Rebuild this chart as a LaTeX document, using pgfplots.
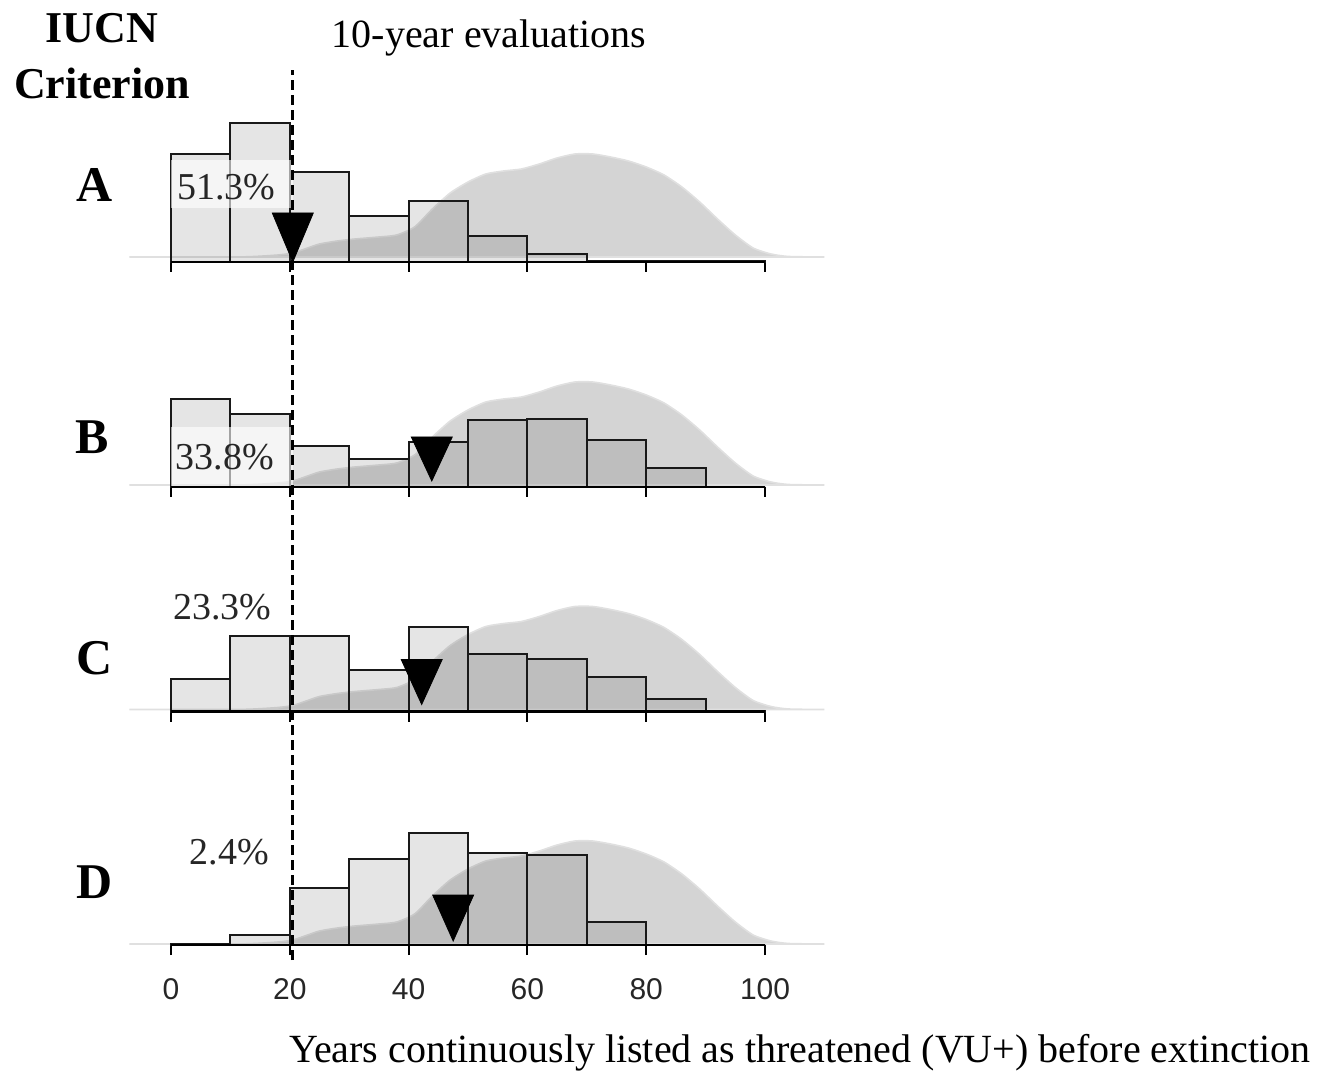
\documentclass[border=0pt]{standalone}
\usepackage{fontspec}
\setmainfont{Liberation Serif}
\newfontfamily\axisdigits{Liberation Sans}
\usepackage{pgfplots}
\usepackage{pgfplotstable}
\pgfplotsset{compat=1.18}

% Reference distribution (smoothed density), drawn behind every panel
\pgfplotstableread{
x d
-7 0
10 0
14 0.5
18 2
20.5 4
23 9
25 13
28 16
31 18
35 20
38 22
41 30
44 48
47 64
50 75
53 83
56 86
59 88
62 93
65 99
68 103
71 103
74 100
77 96
80 90
83 82
86 70
89 55
92 38
95 22
98 9
101 3
104 0.5
110 0
}\densitytbl

% Histograms of years listed as threatened, one column per criterion
\pgfplotstableread{
x A B C D
0 108 88 33 0.6
10 139 73 76 9.7
20 90 41 76 57
30 46 28 42 86
40 61 45 85 112
50 26 67 58 92
60 8 68 53 90
70 1.3 47 35 23
80 0.5 19 13 0.5
90 0.5 0 1 0
100 0 0 0 0
}\binstbl

\pgfplotsset{
  panel/.style={
    scale only axis, width=356.4pt, height=90pt,
    xmin=-8, xmax=112, ymin=0, ymax=180,
    anchor=south west, clip=false,
    axis line style={draw=none},
    ytick=\empty,
    xtick={0,20,...,100}, xtick pos=bottom,
    tick align=outside, major tick length=5pt,
    tick style={black, line width=1pt},
    /pgf/number format/assume math mode=true,
  },
  nolabels/.style={xticklabels={}},
}
\tikzset{pct/.style={font=\fontsize{19}{22}\selectfont, text=black!85, inner sep=0pt}}

% density, bars and baseline shared by the four panels
\newcommand{\panelbody}[2]{%
  \addplot[fill=black!17, draw=black!12, line width=0.8pt, smooth, tension=0.4]
    table[x=x, y expr=\thisrow{d}+#2] {\densitytbl} -- cycle;
  \addplot[ybar interval, fill=black, fill opacity=0.1, draw=black!90, line width=1pt]
    table[x=x, y=#1] {\binstbl};
  \addplot[black, line width=1.3pt] coordinates {(0,0) (100,0)};
}

\begin{document}
\begin{tikzpicture}
\useasboundingbox (0,0) rectangle (663pt,-537pt);

% Criterion A
\begin{axis}[panel, nolabels, at={(61.75pt,-131pt)}]
  \panelbody{A}{5}
  \fill[white, fill opacity=0.6] (axis cs:0,54) rectangle (axis cs:20.5,102);
  \node[pct] at (axis cs:9.3,75) {51.3\%};
  \addplot[fill=black, draw=black] coordinates {(17.05,49) (23.95,49) (20.5,0)} -- cycle;
\end{axis}

% Criterion B
\begin{axis}[panel, nolabels, at={(61.75pt,-243.5pt)}]
  \panelbody{B}{2}
  \fill[white, fill opacity=0.6] (axis cs:0,1) rectangle (axis cs:20.5,60);
  \node[pct] at (axis cs:9.1,30) {33.8\%};
  \addplot[fill=black, draw=black] coordinates {(40.45,50) (47.35,50) (43.9,6)} -- cycle;
\end{axis}

% Criterion C
\begin{axis}[panel, nolabels, at={(61.75pt,-355.75pt)}]
  \panelbody{C}{2}
  \node[pct] at (axis cs:8.6,104.5) {23.3\%};
  \addplot[fill=black, draw=black] coordinates {(38.75,52) (45.65,52) (42.2,7)} -- cycle;
\end{axis}

% Criterion D, with the tick labels and the 20-year reference line
\begin{axis}[panel, at={(61.75pt,-472.5pt)},
    xticklabel style={font=\axisdigits\fontsize{15}{18}\selectfont, text=black!85, yshift=-8pt}]
  \panelbody{D}{1}
  \node[pct] at (axis cs:9.8,93) {2.4\%};
  \addplot[fill=black, draw=black] coordinates {(44.05,50) (50.95,50) (47.5,4)} -- cycle;
  \draw[black, line width=1.3pt, dash pattern=on 5pt off 2.5pt]
    (axis cs:20.5,-15) -- (axis cs:20.5,875);
\end{axis}

\begin{scope}[x=0.5pt, y=-0.5pt]
  \node[font=\bfseries\fontsize{22}{26}\selectfont] at (102,28) {IUCN};
  \node[font=\bfseries\fontsize{22}{26}\selectfont] at (102,83) {Criterion};
  \node[font=\fontsize{20}{24}\selectfont] at (489,38) {10-year evaluations};
  \node[font=\bfseries\fontsize{25}{30}\selectfont] at (95,185) {A};
  \node[font=\bfseries\fontsize{25}{30}\selectfont] at (92,437) {B};
  \node[font=\bfseries\fontsize{25}{30}\selectfont] at (95,658) {C};
  \node[font=\bfseries\fontsize{25}{30}\selectfont] at (95,882) {D};
  \node[font=\fontsize{20}{24}\selectfont] at (800,1053)
    {Years continuously listed as threatened (VU+) before extinction};
\end{scope}
\end{tikzpicture}
\end{document}
